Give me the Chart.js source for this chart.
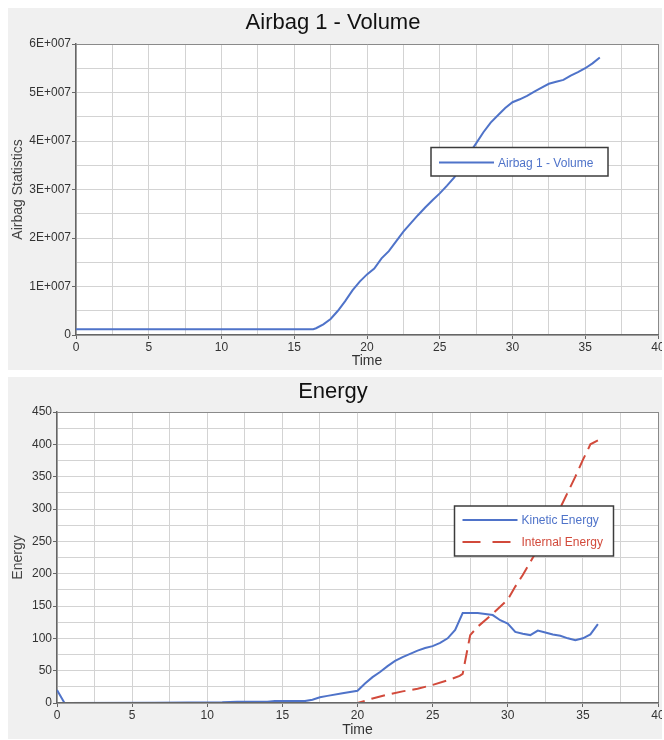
<!DOCTYPE html>
<html>
<head>
<meta charset="utf-8">
<script src="https://cdn.jsdelivr.net/npm/chart.js@4.4.1/dist/chart.umd.min.js"></script>
<style>
body { margin: 0; background: #fff; width: 664px; height: 740px; position: relative; overflow: hidden; }
.panel { position: absolute; left: 8px; width: 654px; height: 362px; }
#p1 { top: 8px; }
#p2 { top: 377px; }
</style>
</head>
<body>
<div class="panel" id="p1"><canvas id="volChart" width="654" height="362"></canvas></div>
<div class="panel" id="p2"><canvas id="energyChart" width="654" height="362"></canvas></div>
<script>
// Airbag volume vs time
var volTime = [0, 16.3, 16.5, 17, 17.5, 18, 18.5, 19, 19.5, 20, 20.5, 21, 21.5, 22, 22.5, 23, 23.5, 24, 24.5, 25,
    25.5, 26, 26.5, 27, 27.5, 28, 28.5, 29, 29.5, 30, 30.5, 31, 31.5, 32, 32.5, 33, 33.5, 34, 34.5, 35, 35.5, 36];
var volValue = [1.2e6, 1.2e6, 1.4e6, 2.2e6, 3.3e6, 5.0e6, 7.0e6, 9.2e6, 11.0e6, 12.5e6, 13.7e6, 15.8e6, 17.3e6, 19.3e6, 21.3e6, 23.0e6, 24.7e6, 26.3e6, 27.8e6, 29.2e6,
    30.8e6, 32.5e6, 35.0e6, 37.3e6, 39.5e6, 41.8e6, 43.8e6, 45.3e6, 46.8e6, 48.0e6, 48.6e6, 49.3e6, 50.2e6, 51.0e6, 51.8e6, 52.2e6, 52.6e6, 53.5e6, 54.2e6, 55.0e6, 56.0e6, 57.2e6];

// Energy vs time
var keTime = [0, 0.5, 6.5, 11, 12, 14, 14.5, 16.5, 17, 17.5, 18, 19, 20, 20.5, 21, 21.5, 22, 22.5, 23, 23.5, 24, 24.5, 25,
    25.5, 26, 26.5, 27, 28, 29, 29.5, 30, 30.5, 31, 31.5, 32, 32.5, 33, 33.5, 34, 34.5, 35, 35.5, 36];
var keValue = [20, 0, 0.5, 1, 2, 2, 3, 3, 5, 9, 11, 15, 19, 30, 40, 48, 57, 65, 71, 76, 81, 85, 88,
    93, 100, 113, 139, 139, 136, 128, 123, 110, 107, 105, 112, 109, 106, 104, 100, 97, 100, 106, 122];
var ieTime = [0, 20, 21, 22, 23, 24, 25, 26, 26.8, 27, 27.5, 28, 29, 30, 30.5, 31, 31.5, 32, 32.5, 33, 33.5, 34, 34.5, 35, 35.3, 35.5, 36];
var ieValue = [0, 0, 7, 13, 18, 22, 28, 35, 42, 45, 105, 118, 138, 160, 180, 198, 218, 238, 258, 280, 302, 326, 350, 376, 390, 400, 406];

function pairs(xs, ys) {
    return xs.map(function (x, i) { return { x: x, y: ys[i] }; });
}

var FONT = 'Liberation Sans';
var BLUE = '#4f73c9';
var RED = '#d24a3b';

// grey panel and white plot area
var panelBg = {
    id: 'panelBg',
    beforeDraw: function (chart) {
        var c = chart.ctx, a = chart.chartArea;
        c.save();
        c.fillStyle = '#f0f0f0';
        c.fillRect(0, 0, chart.width, chart.height);
        c.fillStyle = '#ffffff';
        c.fillRect(a.left, a.top, a.right - a.left, a.bottom - a.top);
        c.restore();
    }
};

// legend box drawn inside the plot
var boxLegend = {
    id: 'boxLegend',
    afterDatasetsDraw: function (chart, args, o) {
        var c = chart.ctx;
        c.save();
        c.fillStyle = '#ffffff';
        c.fillRect(o.x, o.y, o.w, o.h);
        c.strokeStyle = '#3c3c3c';
        c.lineWidth = 1.5;
        c.strokeRect(o.x, o.y, o.w, o.h);
        chart.data.datasets.forEach(function (ds, i) {
            var y = o.y + o.first + i * o.gap;
            var x0 = o.x + 8;
            c.strokeStyle = ds.borderColor;
            c.lineWidth = 2;
            c.setLineDash(ds.borderDash ? [18, 12] : []);
            c.beginPath();
            c.moveTo(x0, y);
            c.lineTo(x0 + 55, y);
            c.stroke();
            c.setLineDash([]);
            c.fillStyle = ds.borderColor;
            c.font = '12px ' + FONT;
            c.textBaseline = 'middle';
            c.fillText(ds.label, x0 + 59, y + 1);
        });
        c.restore();
    }
};

function xScale(h) {
    return {
        type: 'linear', min: 0, max: 40,
        border: { color: '#666', width: 1.5 },
        grid: {
            color: function (ctx) { return ctx.tick && ctx.tick.value === 40 ? '#8a8a8a' : '#d3d3d3'; },
            tickLength: 4,
            tickColor: function (ctx) { return ctx.tick && ctx.tick.value % 5 === 0 ? '#666' : 'rgba(0,0,0,0)'; }
        },
        ticks: {
            stepSize: 2.5, padding: 1, maxRotation: 0, autoSkip: false,
            color: '#333', font: { family: FONT, size: 12 },
            callback: function (v) { return v % 5 === 0 ? v : ''; }
        },
        title: { display: true, text: 'Time', color: '#333', font: { family: FONT, size: 14 }, padding: 0 },
        afterFit: function (s) { s.height = h; s.paddingRight = 0; }
    };
}

function yScale(w, max, step, major, label, fmt) {
    return {
        min: 0, max: max,
        border: { color: '#666', width: 1.5 },
        grid: {
            color: function (ctx) { return ctx.tick && ctx.tick.value === max ? '#8a8a8a' : '#d3d3d3'; },
            tickLength: 4,
            tickColor: function (ctx) { return ctx.tick && ctx.tick.value % major === 0 ? '#666' : 'rgba(0,0,0,0)'; }
        },
        ticks: {
            stepSize: step, padding: 1, autoSkip: false,
            color: '#333', font: { family: FONT, size: 12 },
            callback: function (v) { return v % major === 0 ? fmt(v) : ''; }
        },
        title: { display: true, text: label, color: '#444', font: { family: FONT, size: 14 }, padding: { top: 2, bottom: 0 } },
        afterFit: function (s) { s.width = w; }
    };
}

new Chart(document.getElementById('volChart'), {
    type: 'line',
    data: {
        datasets: [{
            label: 'Airbag 1 - Volume',
            data: pairs(volTime, volValue),
            borderColor: BLUE,
            borderWidth: 2,
            pointRadius: 0,
            tension: 0,
            fill: false
        }]
    },
    options: {
        responsive: false,
        animation: false,
        layout: { padding: { left: 0, right: 4, top: 0, bottom: 0 } },
        plugins: {
            legend: { display: false },
            tooltip: { enabled: false },
            title: { display: true, text: 'Airbag 1 - Volume', color: '#111', font: { family: FONT, size: 22, weight: 'normal' }, padding: { top: 2, bottom: 7.6 } },
            boxLegend: { x: 423, y: 139.5, w: 177, h: 28.5, first: 15, gap: 22 }
        },
        scales: {
            x: xScale(35),
            y: yScale(68, 6e7, 5e6, 1e7, 'Airbag Statistics', function (v) { return v === 0 ? '0' : (v / 1e7) + 'E+007'; })
        }
    },
    plugins: [panelBg, boxLegend]
});

new Chart(document.getElementById('energyChart'), {
    type: 'line',
    data: {
        datasets: [{
            label: 'Kinetic Energy',
            data: pairs(keTime, keValue),
            borderColor: BLUE,
            borderWidth: 2,
            pointRadius: 0,
            tension: 0,
            fill: false,
            clip: { left: 0, top: 0, right: 0, bottom: -1 }
        }, {
            label: 'Internal Energy',
            data: pairs(ieTime, ieValue),
            borderColor: RED,
            borderWidth: 2,
            borderDash: [14, 7],
            pointRadius: 0,
            tension: 0,
            fill: false,
            clip: { left: 0, top: 0, right: 0, bottom: -1 }
        }]
    },
    options: {
        responsive: false,
        animation: false,
        layout: { padding: { left: 0, right: 4, top: 0, bottom: 0 } },
        plugins: {
            legend: { display: false },
            tooltip: { enabled: false },
            title: { display: true, text: 'Energy', color: '#111', font: { family: FONT, size: 22, weight: 'normal' }, padding: { top: 2, bottom: 6.6 } },
            boxLegend: { x: 446.5, y: 129, w: 159, h: 50, first: 14, gap: 22 }
        },
        scales: {
            x: xScale(36),
            y: yScale(49, 450, 25, 50, 'Energy', function (v) { return String(v); })
        }
    },
    plugins: [panelBg, boxLegend]
});
</script>
</body>
</html>
